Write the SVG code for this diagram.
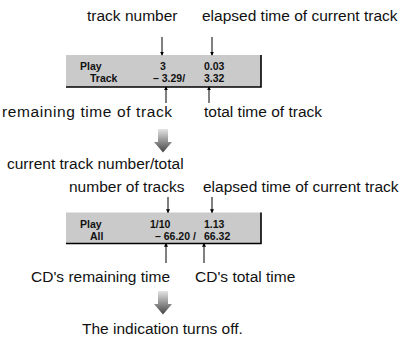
<svg xmlns="http://www.w3.org/2000/svg" width="409" height="337" viewBox="0 0 409 337">
<style>
.lbl{font-family:"Liberation Sans",Arial,sans-serif;font-size:15.5px;fill:#111}
.lcd{font-family:"Liberation Sans",Arial,sans-serif;font-size:10.5px;font-weight:bold;fill:#111}
.ld{stroke:#000;stroke-width:1;fill:none}
.panel{fill:#cacaca}
.edge{stroke:#000;stroke-width:1.6;fill:none}
</style>
<defs>
<marker id="tip" viewBox="0 0 6 6" refX="5" refY="3" markerWidth="4" markerHeight="4" markerUnits="userSpaceOnUse" orient="auto">
<path d="M0,0 L6,3 L0,6 Z" fill="#000"/>
</marker>
<linearGradient id="grad" x1="0" y1="0" x2="0" y2="1">
<stop offset="0" stop-color="#e4e4e4"/>
<stop offset="1" stop-color="#444"/>
</linearGradient>
</defs>
<rect width="409" height="337" fill="#fff"/>

<g id="display1">
<rect class="panel" x="66" y="55" width="195" height="32"/>
<path class="edge" d="M66,87 H261 V55"/>
<text class="lcd" x="80" y="69.5">Play</text>
<text class="lcd" x="90" y="82">Track</text>
<text class="lcd" x="160" y="69.5">3</text>
<text class="lcd" x="153" y="82">– 3.29/</text>
<text class="lcd" x="204" y="69.5">0.03</text>
<text class="lcd" x="204" y="82">3.32</text>
</g>

<g id="labels1">
<text class="lbl" x="87" y="21">track number</text>
<text class="lbl" x="202" y="21">elapsed time of current track</text>
<text class="lbl" x="2" y="116.5" textLength="170" lengthAdjust="spacing">remaining time of track</text>
<text class="lbl" x="204" y="116.5">total time of track</text>
</g>

<g id="arrow1">
<path d="M158,129 H168 V142 H172 L163,152.5 L154,142 H158 Z" fill="url(#grad)"/>
</g>

<g id="display2">
<rect class="panel" x="66" y="212.5" width="195" height="31"/>
<path class="edge" d="M66,243.5 H261 V212.5"/>
<text class="lcd" x="80" y="227.5">Play</text>
<text class="lcd" x="90" y="240">All</text>
<text class="lcd" x="150" y="227.5">1/10</text>
<text class="lcd" x="155" y="240">– 66.20 /</text>
<text class="lcd" x="204" y="227.5">1.13</text>
<text class="lcd" x="204" y="240">66.32</text>
</g>

<g id="labels2">
<text class="lbl" x="7" y="169">current track number/total</text>
<text class="lbl" x="69" y="192">number of tracks</text>
<text class="lbl" x="203" y="192">elapsed time of current track</text>
<text class="lbl" x="31" y="282">CD's remaining time</text>
<text class="lbl" x="195" y="282">CD's total time</text>
</g>

<g id="arrow2">
<path d="M158,291 H168 V304 H172 L163,314.5 L154,304 H158 Z" fill="url(#grad)"/>
</g>

<g id="off">
<text class="lbl" x="82" y="334">The indication turns off.</text>
</g>

<g id="connectors">
<line class="ld" x1="162" y1="37" x2="162" y2="55" marker-end="url(#tip)"/>
<line class="ld" x1="212" y1="37" x2="212" y2="55" marker-end="url(#tip)"/>
<line class="ld" x1="166" y1="103" x2="166" y2="87" marker-end="url(#tip)"/>
<line class="ld" x1="209" y1="103" x2="209" y2="87" marker-end="url(#tip)"/>
<line class="ld" x1="168" y1="197" x2="168" y2="212.5" marker-end="url(#tip)"/>
<line class="ld" x1="212" y1="197" x2="212" y2="212.5" marker-end="url(#tip)"/>
<line class="ld" x1="166" y1="263" x2="166" y2="243.5" marker-end="url(#tip)"/>
<line class="ld" x1="204" y1="263" x2="204" y2="243.5" marker-end="url(#tip)"/>
</g>
</svg>
